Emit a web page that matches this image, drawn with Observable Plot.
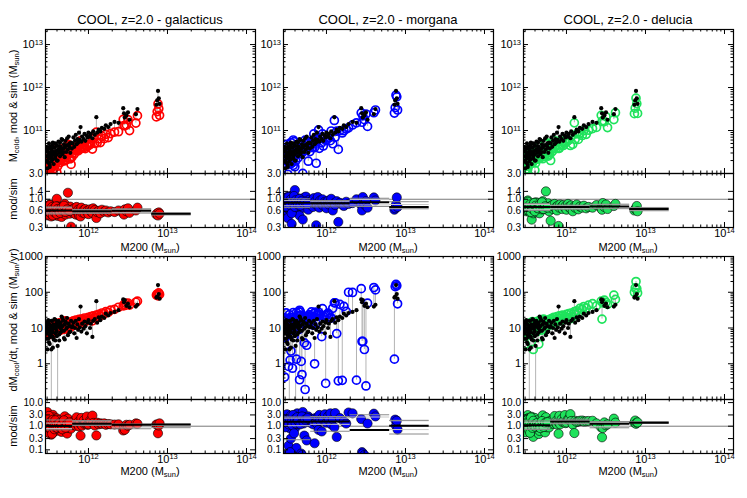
<!DOCTYPE html>
<html><head><meta charset="utf-8">
<script src="https://cdn.jsdelivr.net/npm/d3@7"></script>
<script src="https://cdn.jsdelivr.net/npm/@observablehq/plot@0.6"></script>
<style>
body{margin:0;background:#fff;}
#chart{position:relative;width:747px;height:498px;overflow:hidden;font-family:"Liberation Sans",Arial,Helvetica,sans-serif;color:#000;background:#fff;}
.title{position:absolute;font-size:13px;line-height:1;white-space:nowrap;transform:translateX(-50%);}
.xlab{position:absolute;font-size:11px;line-height:1;white-space:nowrap;transform:translateX(-50%);}
.ylab{position:absolute;font-size:11px;line-height:1;white-space:nowrap;transform:translate(-50%,-50%) rotate(-90deg);}
sub{font-size:7.5px;vertical-align:-2px;line-height:0;}
</style></head>
<body><div id="chart"></div>
<script>
// ---------------- data ----------------
const models = ["galacticus", "morgana", "delucia"];
const modelColors = ["#ff0000", "#0000ff", "#1fe35c"];

// halo mass, log10(M200 / Msun)
const logM200 = [11.47,11.47,11.48,11.48,11.49,11.49,11.50,11.50,11.51,11.51,11.52,11.52,11.53,11.53,11.54,11.54,11.55,11.55,11.56,11.56,11.57,11.58,11.58,11.59,11.60,11.60,11.61,11.62,11.62,11.63,11.64,11.65,11.65,11.66,11.67,11.68,11.69,11.70,11.70,11.71,11.72,11.73,11.74,11.75,11.76,11.77,11.78,11.79,
11.80,11.81,11.82,11.83,11.84,11.85,11.86,11.87,11.88,11.89,11.90,11.91,11.92,11.94,11.95,11.96,11.98,11.99,12.00,12.02,12.03,12.05,12.06,12.08,12.10,12.11,12.13,12.15,12.17,12.20,12.22,12.25,12.28,
12.33,12.38,12.44,12.45,12.46,12.48,12.50,12.52,12.60,12.62,
12.86,12.87,12.88,12.89,12.90,
11.46,11.47,11.48,11.49,11.50,11.51,11.52,11.53,11.54,11.55,11.56,11.57,11.58,11.59,11.60,11.61,11.63,11.64,11.66,11.67,11.69,11.71,11.73,11.76];

// simulation cold gas mass, log10(Msun)
const simColdLog = [10.30,10.52,10.12,10.40,10.58,10.25,10.45,10.35,10.62,10.20,10.48,10.38,10.55,10.28,10.66,10.42,10.33,10.50,10.60,10.22,10.46,10.70,10.36,10.52,10.44,10.64,10.30,10.56,10.74,10.48,10.40,10.62,10.52,10.80,10.45,10.58,10.68,10.38,10.60,10.76,10.50,10.66,10.56,10.86,10.62,10.48,10.72,10.58,
10.70,10.84,10.62,10.76,10.90,10.68,10.80,10.72,10.95,10.78,11.08,10.74,10.86,10.80,10.92,10.76,10.88,10.84,10.95,10.86,10.92,10.82,10.98,10.90,11.31,10.95,11.02,10.98,11.06,11.04,11.12,11.08,11.15,
11.20,11.18,11.52,11.40,11.30,11.35,11.42,11.25,11.38,11.50,
11.60,11.70,11.92,11.75,11.62,
10.40,10.62,10.28,10.50,10.70,10.15,10.58,10.44,10.34,10.72,10.50,10.60,10.42,10.68,10.30,10.54,10.64,10.72,10.56,10.78,10.50,10.64,10.82,10.70];

// simulation cooling rate, log10(Msun/yr)
const simRateLog = [0.85,1.05,0.40,0.95,1.15,0.70,0.90,1.10,0.80,0.55,1.00,0.75,1.20,0.40,0.95,1.05,0.88,0.45,1.10,0.68,1.03,1.23,0.85,0.97,1.13,0.77,0.50,1.05,1.20,0.65,1.00,1.15,0.88,1.32,1.05,1.22,0.92,0.68,1.10,1.18,0.98,1.28,0.80,1.12,1.05,0.90,1.20,1.02,
1.05,1.15,0.85,1.00,1.20,0.72,1.10,0.95,1.25,1.02,1.60,0.90,1.12,0.98,1.18,1.05,0.85,1.15,1.22,1.00,1.12,0.75,1.20,1.25,1.75,1.15,1.30,1.22,1.32,1.28,1.40,1.35,1.42,
1.45,1.50,1.80,1.72,1.78,1.62,1.68,1.58,1.60,1.65,
1.85,1.88,2.20,1.95,1.82,
1.15,0.70,1.00,1.22,0.60,0.92,1.08,0.85,1.20,0.75,0.98,1.25,0.65,1.05,0.90,1.18,0.82,1.10,0.95,1.28,0.72,1.15,1.02,0.88];

// model / simulation cold gas mass ratios
const galColdRatio = [0.62,0.55,0.70,0.58,0.50,0.75,0.64,0.60,0.52,0.80,0.66,0.57,0.48,0.72,0.55,0.63,0.68,0.60,0.53,0.78,0.61,0.50,0.70,0.58,1.02,0.54,0.74,0.62,0.49,0.67,0.71,0.56,0.64,0.47,0.69,0.60,0.55,0.82,0.62,0.52,0.66,0.58,1.32,0.60,0.54,0.73,0.31,0.63,
0.60,0.55,0.68,0.62,0.52,0.72,0.58,0.64,0.50,0.61,0.48,0.70,0.57,0.63,0.55,0.66,0.59,0.62,0.53,0.65,0.60,0.56,0.68,0.63,0.45,0.58,0.61,0.55,0.64,0.59,0.62,0.57,0.60,
0.58,0.62,0.55,0.52,0.65,0.60,0.68,0.56,0.62,0.70,
0.52,0.55,0.50,0.57,0.54,
0.58,0.66,0.52,0.70,0.60,0.78,0.55,0.64,0.72,0.50,0.68,0.57,0.62,0.74,0.53,0.66,0.60,0.56,0.70,0.62,0.76,0.58,0.65,0.61];
const morColdRatio = [0.85,1.05,0.62,0.90,0.78,0.95,0.70,1.10,0.82,0.45,0.92,0.75,1.00,0.88,0.65,1.15,0.80,0.95,0.72,0.35,0.86,1.20,0.68,0.90,1.48,0.78,0.98,0.84,0.60,1.05,0.92,0.74,0.88,0.50,1.02,0.80,0.95,0.42,0.86,0.70,1.08,0.82,1.12,0.76,0.90,0.64,0.98,0.85,
0.88,0.80,0.96,0.72,1.05,0.84,0.92,0.33,0.78,1.10,0.86,0.70,0.95,0.82,1.00,0.76,0.90,0.85,0.68,0.94,0.80,0.88,1.02,0.62,0.84,0.78,0.92,0.38,0.86,0.80,0.75,0.90,0.82,
0.85,1.00,0.78,0.62,1.10,0.80,0.92,0.70,1.08,0.95,
0.64,0.68,0.80,1.08,0.72,
0.90,0.75,1.05,0.82,0.95,0.68,1.10,0.86,0.78,1.00,0.55,0.92,0.84,1.15,0.72,0.96,0.88,0.80,1.02,0.76,0.94,0.85,0.90,0.82];
const delColdRatio = [0.72,0.65,0.85,0.70,0.60,0.90,0.75,0.68,0.62,0.95,0.78,0.66,0.58,0.82,0.64,0.74,0.80,0.70,0.62,0.42,0.72,0.55,0.84,0.68,0.76,0.60,0.88,0.73,0.57,0.80,0.86,0.62,0.75,0.55,0.82,0.70,0.65,0.92,0.74,0.66,0.78,0.68,1.40,0.71,0.64,0.84,0.60,0.73,
0.40,0.70,0.78,0.66,0.74,0.82,0.68,0.72,0.62,0.76,0.32,0.70,0.80,0.73,0.66,0.78,0.70,0.75,0.64,0.82,0.72,0.68,0.77,0.60,0.74,0.70,0.80,0.65,0.73,0.70,0.76,0.68,0.72,
0.70,0.78,0.68,0.64,0.85,0.72,0.80,0.66,0.75,0.82,
0.62,0.66,0.68,0.75,0.60,
0.70,0.78,0.64,0.82,0.68,0.90,0.62,0.75,0.80,0.58,0.74,0.66,0.72,0.85,0.60,0.76,0.70,0.68,0.80,0.72,0.88,0.66,0.74,0.70];

// model cooling rates, log10(Msun/yr) (galacticus, delucia) and morgana / sim ratio
const galRateLog = [0.95,0.82,1.00,0.88,1.03,0.80,0.92,1.06,0.86,0.97,0.90,1.08,0.84,-2.0,1.02,0.89,1.10,0.93,0.85,1.05,0.97,1.12,0.90,1.02,0.94,1.10,-2.0,0.96,1.14,0.92,1.04,1.15,0.95,1.08,1.00,1.18,0.98,1.10,1.03,1.20,1.06,0.97,1.12,1.05,1.16,1.02,1.10,1.18,
1.12,1.20,1.08,1.16,1.22,1.10,1.18,1.13,1.24,1.15,1.20,1.25,1.14,1.22,1.28,1.18,1.26,1.21,1.30,1.24,1.32,1.20,1.34,1.28,1.36,1.30,1.38,1.34,1.42,1.40,1.46,1.44,1.50,
1.52,1.58,1.62,1.66,1.63,1.68,1.70,1.64,1.72,1.75,
1.92,1.95,1.90,1.98,1.94,
0.90,1.00,0.86,0.95,1.04,0.82,0.98,1.08,0.88,1.02,0.93,1.12,0.90,1.00,0.96,1.10,0.94,1.05,1.00,1.15,0.97,1.08,1.12,1.04];
const morRateRatio = [0.06,1.6,2.2,1.9,1.3,2.6,1.7,1.4,2.0,3.0,1.2,0.15,1.5,0.01,2.2,0.8,0.30,2.4,1.3,1.9,0.07,1.6,2.3,1.1,0.8,2.8,0.02,0.12,1.7,3.5,1.4,2.0,1.2,1.5,2.5,0.07,0.06,4.0,1.6,1.3,0.4,0.01,2.4,0.25,1.8,2.6,1.5,2.1,
1.4,2.0,1.8,1.2,1.6,0.19,2.2,1.5,1.3,2.4,0.7,3.0,1.7,0.6,2.3,1.9,3.2,0.02,1.4,2.6,1.8,3.5,1.2,2.0,0.9,3.6,0.35,0.02,2.2,0.018,1.6,1.3,3.8,
3.5,0.011,2.0,0.08,0.07,0.06,0.005,1.3,3.4,2.6,
0.019,1.9,1.05,1.7,0.72,
1.4,2.5,0.9,1.6,3.2,1.8,1.2,2.2,0.08,2.8,1.5,1.1,3.0,0.5,2.0,1.3,2.4,1.7,0.04,1.2,2.6,1.5,1.9,2.2];
const delRateLog = [0.98,0.88,0.55,0.92,1.08,0.78,1.00,1.12,0.90,1.02,0.86,1.10,0.95,-2.0,1.05,0.92,1.15,0.80,1.00,1.08,0.94,1.16,0.40,1.04,0.98,1.12,-2.0,1.00,1.18,0.90,1.08,1.20,0.55,1.12,1.04,1.22,0.96,1.14,1.08,1.25,1.10,1.02,1.18,1.08,1.22,1.06,1.15,1.24,
1.18,1.26,1.12,1.20,1.30,1.15,1.24,1.18,1.32,1.22,1.28,1.34,1.20,1.28,1.36,1.25,1.32,1.28,1.38,1.30,1.40,1.26,1.42,1.32,1.46,1.38,1.48,1.42,1.55,1.52,1.60,1.56,1.64,
1.68,1.62,1.75,1.25,1.70,1.78,1.72,1.66,1.92,1.80,
2.00,2.12,2.30,2.10,1.98,
1.02,0.90,1.08,0.96,0.85,1.10,0.94,1.05,0.92,1.12,1.00,1.18,0.88,1.06,0.98,1.15,0.96,1.10,1.02,1.20,0.94,1.12,1.16,1.05];

// mass bins for the ratio statistics, log10(M200)
const binEdges = [11.3, 11.8, 12.3, 12.8, 13.3];

// axes
const xDomain = [2.86e11, 1.3e14];
const xMajorTicks = [1e12, 1e13, 1e14];
const xTickLabels = ["10^12", "10^13", "10^14"];
const coldDomain = [1e10, 2.24e13];
const coldMajorTicks = [1e11, 1e12, 1e13];
const coldTickLabels = ["10^11", "10^12", "10^13"];
const coldRatioDomain = [0.3, 3.0];
const coldRatioTicks = [0.3, 0.6, 1.0, 1.4, 3.0];
const coldRatioLabels = ["0.3", "0.6", "1.0", "1.4", "3.0"];
const rateDomain = [0.1, 1000];
const rateMajorTicks = [0.1, 1, 10, 100, 1000];
const rateTickLabels = ["", "1", "10", "100", "1000"];
const rateRatioDomain = [0.07, 13.5];
const rateRatioTicks = [0.1, 0.3, 1, 3, 10];
const rateRatioLabels = ["0.1", "0.3", "1.0", "3.0", "10.0"];

// ---------------- layout ----------------
const FONT = '"Liberation Sans", Arial, Helvetica, sans-serif';
const root = document.getElementById("chart");
const colLeft = [45, 283, 523];
const frameW = 210;
const rowsGeom = {
  coldMain: {top: 29, h: 144}, coldRatio: {top: 173, h: 54},
  rateMain: {top: 256, h: 143}, rateRatio: {top: 399, h: 54}
};

function minorTicks(domain) {
  const out = [];
  const lo = Math.floor(Math.log10(domain[0])), hi = Math.ceil(Math.log10(domain[1]));
  for (let d = lo; d <= hi; d++) for (let k = 2; k <= 9; k++) {
    const v = k * 10 ** d;
    if (v > domain[0] && v < domain[1]) out.push(v);
  }
  return out;
}

function superscripts(svg) {
  const ns = "http://www.w3.org/2000/svg";
  svg.querySelectorAll("text").forEach(t => {
    const s = t.textContent, i = s.indexOf("^");
    if (i < 0) return;
    t.textContent = "";
    const a = document.createElementNS(ns, "tspan"); a.textContent = s.slice(0, i);
    const b = document.createElementNS(ns, "tspan"); b.textContent = s.slice(i + 1);
    b.setAttribute("dy", "-0.42em"); b.style.fontSize = "7.5px";
    t.append(a, b);
  });
}

function panel({col, geom, yDomain, yMajor, yLabels, yMinor, xLabels, marks, labelSize}) {
  const mL = 45, mR = 6, mT = 6, mB = xLabels ? 22 : 6;
  const W = frameW, H = geom.h;
  const inX = v => v >= xDomain[0] && v <= xDomain[1];
  const xMaj = xMajorTicks.filter(inX), xMin = minorTicks(xDomain);
  const tk = "black";
  const tickMarks = [
    Plot.tickX(xMaj, {x: d => d, insetTop: H - 5, stroke: tk}),
    Plot.tickX(xMaj, {x: d => d, insetBottom: H - 5, stroke: tk}),
    Plot.tickX(xMin, {x: d => d, insetTop: H - 2.5, stroke: tk}),
    Plot.tickX(xMin, {x: d => d, insetBottom: H - 2.5, stroke: tk}),
    Plot.tickY(yMajor, {y: d => d, insetRight: W - 5, stroke: tk}),
    Plot.tickY(yMajor, {y: d => d, insetLeft: W - 5, stroke: tk}),
    Plot.tickY(yMinor, {y: d => d, insetRight: W - 2.5, stroke: tk}),
    Plot.tickY(yMinor, {y: d => d, insetLeft: W - 2.5, stroke: tk})
  ];
  const labelMarks = [
    Plot.text(yMajor, {y: d => d, text: (d, i) => yLabels[i], frameAnchor: "left", textAnchor: "end", dx: -2.5, fontSize: labelSize || 11})
  ];
  if (xLabels) labelMarks.push(
    Plot.text(xMajorTicks, {x: d => d, text: (d, i) => xTickLabels[i], frameAnchor: "bottom", dy: 9, fontSize: 11})
  );
  const svg = Plot.plot({
    width: W + mL + mR, height: H + mT + mB,
    marginLeft: mL, marginRight: mR, marginTop: mT, marginBottom: mB,
    x: {type: "log", domain: xDomain, axis: null},
    y: {type: "log", domain: yDomain, axis: null},
    style: {background: "transparent", overflow: "visible", fontFamily: FONT, color: "black", maxWidth: "none"},
    marks: [...marks, ...tickMarks, Plot.frame({stroke: "black", strokeWidth: 1.2}), ...labelMarks]
  });
  superscripts(svg);
  svg.style.position = "absolute";
  svg.style.left = (colLeft[col] - mL) + "px";
  svg.style.top = (geom.top - mT) + "px";
  root.appendChild(svg);
}

function binStats(rows, key) {
  const out = [];
  for (let b = 0; b < binEdges.length - 1; b++) {
    const v = rows.filter(r => r.lm >= binEdges[b] - 1e-9 && r.lm < binEdges[b + 1] - 1e-9).map(r => r[key]).filter(Number.isFinite).sort(d3.ascending);
    if (!v.length) continue;
    out.push({x1: 10 ** binEdges[b], x2: 10 ** binEdges[b + 1],
      med: d3.quantileSorted(v, 0.5), p16: d3.quantileSorted(v, 0.16), p84: d3.quantileSorted(v, 0.84),
      p25: d3.quantileSorted(v, 0.25), p75: d3.quantileSorted(v, 0.75)});
  }
  return out;
}

function mainMarks(rows, simKey, modKey, color) {
  return [
    Plot.ruleX(rows, {x: "m", y1: simKey, y2: modKey, stroke: "#b4b4b4", strokeWidth: 1, clip: true}),
    Plot.dot(rows, {x: "m", y: modKey, r: 4, stroke: color, strokeWidth: 1.7, fill: "none", clip: true}),
    Plot.dot(rows, {x: "m", y: simKey, r: 2.1, fill: "black", stroke: "none", clip: true})
  ];
}
function ratioMarks(rows, key, color) {
  const st = binStats(rows, key);
  return [
    Plot.ruleY([1], {stroke: "#555", strokeWidth: 0.8}),
    Plot.dot(rows, {x: "m", y: key, r: 4.6, fill: color, stroke: "black", strokeWidth: 0.6, clip: true}),
    Plot.ruleY(st, {y: "p25", x1: "x1", x2: "x2", stroke: "#c8c8c8", strokeWidth: 1, clip: true}),
    Plot.ruleY(st, {y: "p75", x1: "x1", x2: "x2", stroke: "#c8c8c8", strokeWidth: 1, clip: true}),
    Plot.ruleY(st, {y: "p16", x1: "x1", x2: "x2", stroke: "#8a8a8a", strokeWidth: 1, clip: true}),
    Plot.ruleY(st, {y: "p84", x1: "x1", x2: "x2", stroke: "#8a8a8a", strokeWidth: 1, clip: true}),
    Plot.ruleY(st, {y: "med", x1: "x1", x2: "x2", stroke: "black", strokeWidth: 2, clip: true})
  ];
}

const coldRatios = [galColdRatio, morColdRatio, delColdRatio];
models.forEach((name, c) => {
  const rows = logM200.map((lm, i) => {
    const simCold = 10 ** simColdLog[i], simRate = 10 ** simRateLog[i];
    const modCold = simCold * coldRatios[c][i];
    let modRate;
    if (c === 0) modRate = 10 ** galRateLog[i];
    else if (c === 1) modRate = simRate * morRateRatio[i];
    else modRate = 10 ** delRateLog[i];
    return {lm, m: 10 ** lm, simCold, modCold, coldR: modCold / simCold, simRate, modRate, rateR: modRate / simRate};
  });
  const color = modelColors[c];
  panel({col: c, geom: rowsGeom.coldMain, yDomain: coldDomain, yMajor: coldMajorTicks, yLabels: coldTickLabels,
    yMinor: minorTicks(coldDomain), xLabels: false, marks: mainMarks(rows, "simCold", "modCold", color)});
  panel({col: c, geom: rowsGeom.coldRatio, yDomain: coldRatioDomain, yMajor: coldRatioTicks, yLabels: coldRatioLabels,
    yMinor: [], xLabels: true, marks: ratioMarks(rows, "coldR", color), labelSize: 10});
  panel({col: c, geom: rowsGeom.rateMain, yDomain: rateDomain, yMajor: rateMajorTicks, yLabels: rateTickLabels,
    yMinor: minorTicks(rateDomain), xLabels: false, marks: mainMarks(rows, "simRate", "modRate", color)});
  panel({col: c, geom: rowsGeom.rateRatio, yDomain: rateRatioDomain, yMajor: rateRatioTicks, yLabels: rateRatioLabels,
    yMinor: [], xLabels: true, marks: ratioMarks(rows, "rateR", color), labelSize: 10});

  const cx = colLeft[c] + frameW / 2;
  const t = document.createElement("div");
  t.className = "title"; t.style.left = cx + "px"; t.style.top = "13px";
  t.textContent = "COOL, z=2.0 - " + name;
  root.appendChild(t);
  [242, 466].forEach(top => {
    const d = document.createElement("div");
    d.className = "xlab"; d.style.left = cx + "px"; d.style.top = top + "px";
    d.innerHTML = "M200 (M<sub>sun</sub>)";
    root.appendChild(d);
  });
});

[[13, 106, "M<sub>cold</sub>, mod &amp; sim (M<sub>sun</sub>)"],
 [13, 199, "mod/sim"],
 [13, 320, "dM<sub>cool</sub>/dt, mod &amp; sim (M<sub>sun</sub>/yr)"],
 [13, 426, "mod/sim"]].forEach(([x, y, html]) => {
  const d = document.createElement("div");
  d.className = "ylab"; d.style.left = x + "px"; d.style.top = y + "px";
  d.innerHTML = html;
  root.appendChild(d);
});
</script>
</body></html>
